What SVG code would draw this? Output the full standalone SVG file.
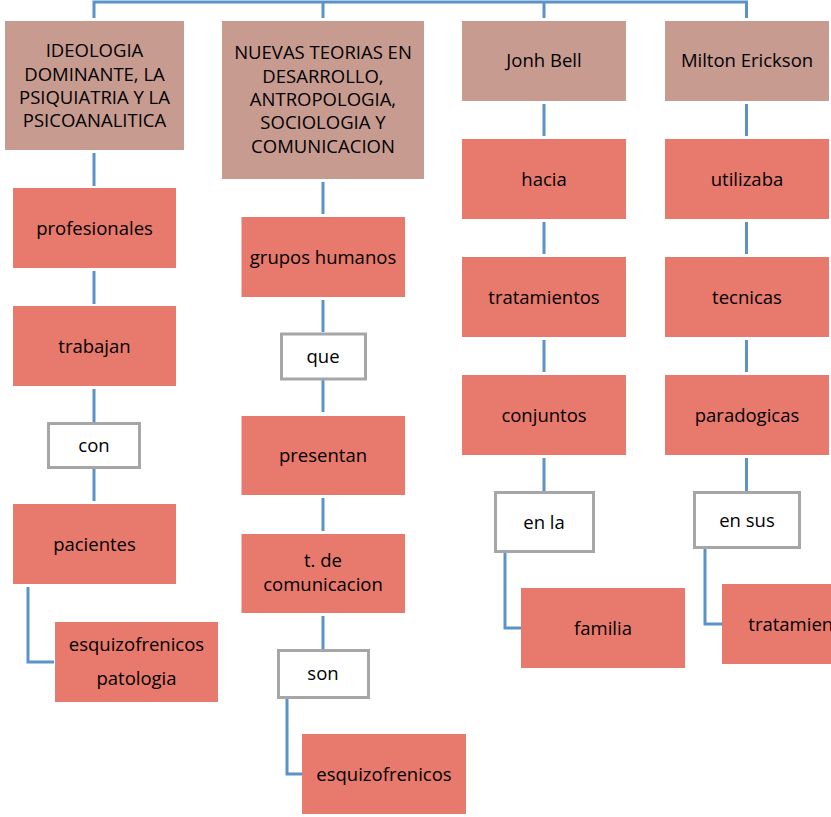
<svg xmlns="http://www.w3.org/2000/svg" width="831" height="817" viewBox="0 0 831 817">
<style>
.top{fill:#C89B91;}
.node{fill:#E8796D;}
.wb{fill:#FFFFFF;stroke:#A6A6A6;stroke-width:3;}
text{font-family:"Open Sans","Noto Sans","Liberation Sans",sans-serif;font-size:18.5px;fill:#000000;text-anchor:middle;}
.cn{fill:none;stroke:#5B93C9;stroke-width:3;}
</style>
<rect width="831" height="817" fill="#FFFFFF"/>
<g id="connectors">
<path class="cn" d="M94,18 V2 H746.5 V18 M323,2 V18 M544,2 V18"/>
<path class="cn" d="M94,153 V186 M94,271 V304 M94,389 V422 M94,469 V501 M28,587 V662 H54"/>
<path class="cn" d="M323,182 V214 M323,300 V332 M323,380 V412 M323,498 V531 M323,616 V650 M287,699 V774 H302"/>
<path class="cn" d="M544,104 V136 M544,222 V254 M544,340 V372 M544,458 V491 M505,553 V628 H521"/>
<path class="cn" d="M746.5,104 V136 M746.5,222 V254 M746.5,340 V372 M746.5,458 V491 M705,549 V624 H722"/>
</g>
<g id="n-ideologia"><rect class="top" x="5" y="21" width="179" height="129"/>
<text x="94.5" y="57.3">IDEOLOGIA</text><text x="94.5" y="80.7">DOMINANTE, LA</text><text x="94.5" y="104">PSIQUIATRIA Y LA</text><text x="94.5" y="127.3">PSICOANALITICA</text></g>
<g id="n-nuevas"><rect class="top" x="222" y="21" width="202" height="158"/>
<text x="323" y="59.3">NUEVAS TEORIAS EN</text><text x="323" y="82.7">DESARROLLO,</text><text x="323" y="106">ANTROPOLOGIA,</text><text x="323" y="129.3">SOCIOLOGIA Y</text><text x="323" y="152.7">COMUNICACION</text></g>
<g id="n-bell"><rect class="top" x="462" y="21" width="164" height="80"/><text x="544" y="67">Jonh Bell</text></g>
<g id="n-erickson"><rect class="top" x="665" y="21" width="164" height="80"/><text x="747" y="67">Milton Erickson</text></g>

<g id="n-profesionales"><rect class="node" x="13" y="188" width="163" height="80"/><text x="94.5" y="234.5">profesionales</text></g>
<g id="n-trabajan"><rect class="node" x="13" y="306" width="163" height="80"/><text x="94.5" y="352.5">trabajan</text></g>
<g id="n-con"><rect class="wb" x="48.5" y="423.5" width="91" height="44"/><text x="94" y="452">con</text></g>
<g id="n-pacientes"><rect class="node" x="13" y="504" width="163" height="80"/><text x="94.5" y="550.5">pacientes</text></g>
<g id="n-esq1"><rect class="node" x="55" y="622" width="163" height="80"/><text x="136.5" y="651">esquizofrenicos</text><text x="136.5" y="684.5">patologia</text></g>

<g id="n-grupos"><rect class="node" x="241.5" y="217" width="163.5" height="80"/><text x="323" y="263.5">grupos humanos</text></g>
<g id="n-que"><rect class="wb" x="281.5" y="334" width="84" height="45"/><text x="323" y="362.5">que</text></g>
<g id="n-presentan"><rect class="node" x="241.5" y="416" width="163.5" height="79"/><text x="323" y="462">presentan</text></g>
<g id="n-tde"><rect class="node" x="241.5" y="534" width="163.5" height="79"/><text x="323" y="567">t. de</text><text x="323" y="590.5">comunicacion</text></g>
<g id="n-son"><rect class="wb" x="278.5" y="650.5" width="90" height="47"/><text x="323" y="680">son</text></g>
<g id="n-esq2"><rect class="node" x="302" y="734" width="164" height="80"/><text x="384" y="780.5">esquizofrenicos</text></g>

<g id="n-hacia"><rect class="node" x="462" y="139" width="164" height="80"/><text x="544" y="185.5">hacia</text></g>
<g id="n-trat1"><rect class="node" x="462" y="257" width="164" height="80"/><text x="544" y="303.5">tratamientos</text></g>
<g id="n-conjuntos"><rect class="node" x="462" y="375" width="164" height="80"/><text x="544" y="421.5">conjuntos</text></g>
<g id="n-enla"><rect class="wb" x="495.5" y="492.5" width="98" height="59"/><text x="544" y="528.5">en la</text></g>
<g id="n-familia"><rect class="node" x="521" y="588" width="164" height="80"/><text x="603" y="634.5">familia</text></g>

<g id="n-utilizaba"><rect class="node" x="665" y="139" width="164" height="80"/><text x="747" y="185.5">utilizaba</text></g>
<g id="n-tecnicas"><rect class="node" x="665" y="257" width="164" height="80"/><text x="747" y="303.5">tecnicas</text></g>
<g id="n-paradogicas"><rect class="node" x="665" y="375" width="164" height="80"/><text x="747" y="421.5">paradogicas</text></g>
<g id="n-ensus"><rect class="wb" x="694.5" y="492.5" width="105" height="55"/><text x="747" y="526.5">en sus</text></g>
<g id="n-trat2"><rect class="node" x="722" y="584" width="164" height="80"/><text x="804" y="630.5">tratamientos</text></g>
</svg>
